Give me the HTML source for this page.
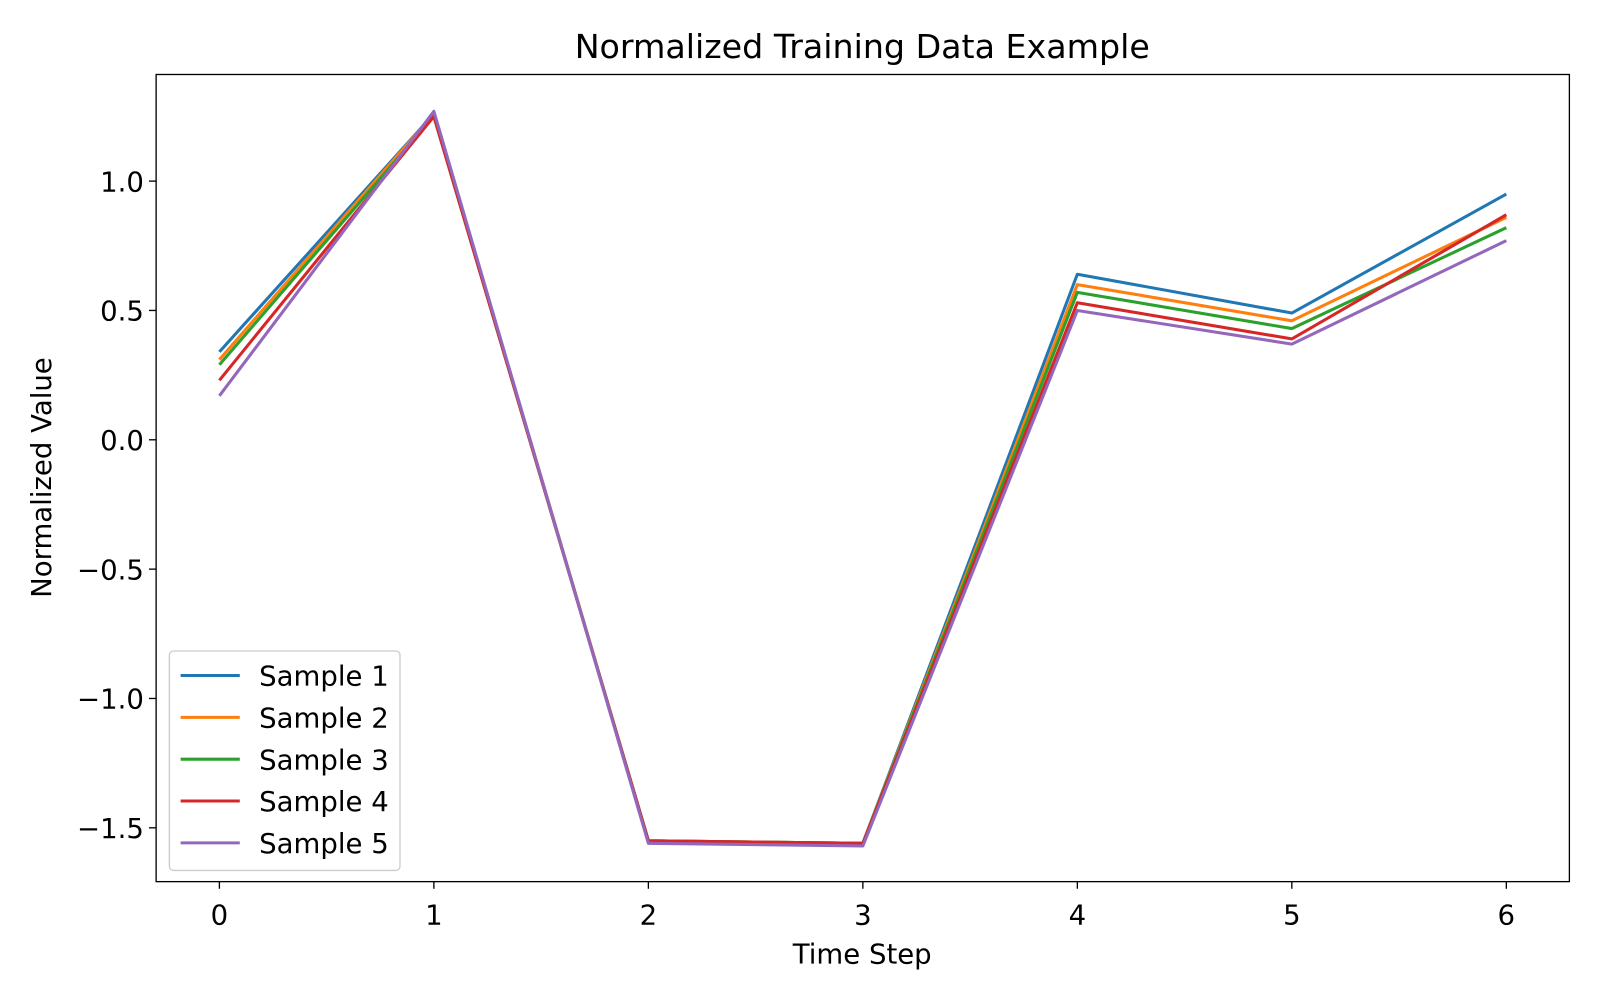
<!DOCTYPE html>
<html><head><meta charset="utf-8"><style>
body{margin:0;background:#fff;}
svg{display:block;font-family:"DejaVu Sans","Liberation Sans",sans-serif;}
</style></head><body>
<svg id="chart" width="1600" height="1000" viewBox="0 0 1568 980">
<rect width="1568" height="980" fill="#fff"/>
<text x="845" y="57" font-size="32.6" text-anchor="middle">Normalized Training Data Example</text>
<text x="845" y="944" font-size="27" text-anchor="middle">Time Step</text>
<text transform="translate(50,468) rotate(-90)" font-size="27" text-anchor="middle">Normalized Value</text>
<g id="ticks"></g>
<g id="lines"></g>
<rect x="153" y="73" width="1385" height="791" fill="none" stroke="#000" stroke-width="1.3"/>
<g id="legend"></g>
</svg>
<script>
const xTicks=[0,1,2,3,4,5,6];
const yTicks=[-1.5,-1.0,-0.5,0.0,0.5,1.0];
const yTickLabels=["\u22121.5","\u22121.0","\u22120.5","0.0","0.5","1.0"];
const seriesNames=["Sample 1","Sample 2","Sample 3","Sample 4","Sample 5"];
const colors=["#1f77b4","#ff7f0e","#2ca02c","#d62728","#9467bd"];
const s1=[0.34,1.26,-1.55,-1.56,0.64,0.49,0.95];
const s2=[0.31,1.26,-1.55,-1.56,0.60,0.46,0.86];
const s3=[0.29,1.25,-1.55,-1.56,0.57,0.43,0.82];
const s4=[0.23,1.25,-1.55,-1.56,0.53,0.39,0.87];
const s5=[0.17,1.27,-1.56,-1.57,0.50,0.37,0.77];
const series=[s1,s2,s3,s4,s5];
const NS="http://www.w3.org/2000/svg";
function X(v){return 215+v*210.2;}
function Y(v){return 431-v*253.5;}
function mk(t,a,p){const e=document.createElementNS(NS,t);for(const k in a)e.setAttribute(k,a[k]);p.appendChild(e);return e;}
const tg=document.getElementById('ticks');
xTicks.forEach(v=>{
 const l=mk('line',{x1:X(v),x2:X(v),y1:864,y2:871,stroke:'#000','stroke-width':1.3},tg);
 
 
 const t=mk('text',{x:X(v),y:906,'font-size':27,'text-anchor':'middle'},tg);t.textContent=v;
 
 
});
yTicks.forEach((v,i)=>{
 const l=mk('line',{x1:146,x2:153,y1:Y(v),y2:Y(v),stroke:'#000','stroke-width':1.3},tg);
 
 
 const t=mk('text',{x:141,y:Y(v)+10,'font-size':27,'text-anchor':'end'},tg);t.textContent=yTickLabels[i];
 
 
});
const lg=document.getElementById('lines');
series.forEach((s,i)=>{
 const p=mk('polyline',{points:s.map((v,j)=>X(xTicks[j])+','+Y(v)).join(' '),fill:'none',stroke:colors[i],'stroke-width':3,'stroke-linejoin':'round'},lg);
 
 
});
const leg=document.getElementById('legend');
const box=mk('rect',{x:166,y:638,width:226,height:215,rx:4,fill:'#fff','fill-opacity':0.8,stroke:'#ccc','stroke-width':1.3},leg);


seriesNames.forEach((n,i)=>{
 const y=662+i*41;
 const l=mk('line',{x1:177,x2:235,y1:y,y2:y,stroke:colors[i],'stroke-width':3},leg);
 
 
 const t=mk('text',{x:254,y:y+10,'font-size':27},leg);t.textContent=n;
 
 
});
</script>
</body></html>
